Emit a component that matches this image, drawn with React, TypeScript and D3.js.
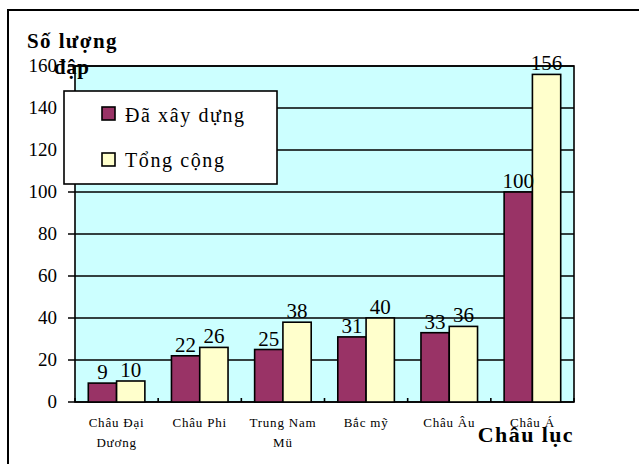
import React from "react";
import * as d3 from "d3";

const categories: string[][] = [
  ["Châu Đại", "Dương"],
  ["Châu Phi"],
  ["Trung Nam", "Mü"],
  ["Bắc mỹ"],
  ["Châu Âu"],
  ["Châu Á"],
];
const seriesNames = ["Đã xây dựng", "Tổng cộng"];
const builtValues = [9, 22, 25, 31, 33, 100];
const totalValues = [10, 26, 38, 40, 36, 156];
const yTicks = [0, 20, 40, 60, 80, 100, 120, 140, 160];
const yTitle = ["Số lượng", "đập"];
const xTitle = "Châu lục";

const colors = ["#993366", "#FFFFCC"];
const W = 639;
const H = 464;
const plot = { left: 75, top: 66, right: 574, bottom: 402 };
const serif = "Liberation Serif, Times New Roman, Times, serif";

export default function App() {
  const seriesValues = [builtValues, totalValues];
  const idx = categories.map((_, i) => i);
  const x = d3.scaleBand<number>().domain(idx).range([plot.left, plot.right]).padding(0);
  const inner = d3
    .scaleBand<number>()
    .domain([0, 1])
    .range([0, x.bandwidth()])
    .paddingInner(0)
    .paddingOuter(0.47);
  const y = d3.scaleLinear().domain([0, 160]).range([plot.bottom, plot.top]);
  const ts = { fontFamily: serif };

  return (
    <svg
      width={W}
      height={H}
      style={{ position: "absolute", left: 0, top: 0, background: "#fff", fontFamily: serif }}
    >
      {/* outer frame */}
      <rect x={8} y={10} width={800} height={600} fill="#fff" stroke="#000" strokeWidth={2} />

      {/* plot background */}
      <rect
        x={plot.left}
        y={plot.top}
        width={plot.right - plot.left}
        height={plot.bottom - plot.top}
        fill="#CCFFFF"
      />

      {/* grid lines */}
      {yTicks.map((t) => (
        <line
          key={"g" + t}
          x1={plot.left - 7}
          x2={plot.right}
          y1={y(t)}
          y2={y(t)}
          stroke="#000"
          strokeWidth={1.6}
        />
      ))}
      {/* plot border */}
      <rect
        x={plot.left}
        y={plot.top}
        width={plot.right - plot.left}
        height={plot.bottom - plot.top}
        fill="none"
        stroke="#000"
        strokeWidth={1.6}
      />
      {/* category boundary ticks */}
      {d3.range(categories.length + 1).map((i) => {
        const xx = plot.left + i * x.step();
        return (
          <line key={"t" + i} x1={xx} x2={xx} y1={plot.bottom} y2={plot.bottom - 4} stroke="#000" strokeWidth={1.6} />
        );
      })}

      {/* bars */}
      {seriesValues.map((vals, s) =>
        vals.map((v, i) => (
          <rect
            key={`b${s}-${i}`}
            x={(x(i) as number) + (inner(s) as number)}
            y={y(v)}
            width={inner.bandwidth()}
            height={plot.bottom - y(v)}
            fill={colors[s]}
            stroke="#000"
            strokeWidth={1.6}
          />
        ))
      )}

      {/* bar value labels */}
      {seriesValues.map((vals, s) =>
        vals.map((v, i) => (
          <text
            key={`l${s}-${i}`}
            x={(x(i) as number) + (inner(s) as number) + inner.bandwidth() / 2}
            y={y(v) - 4}
            textAnchor="middle"
            fontSize={21}
            fill="#000"
            style={ts}
          >
            {v}
          </text>
        ))
      )}

      {/* y tick labels */}
      {yTicks.map((t) => (
        <text key={"yl" + t} x={57} y={y(t)} dy="0.34em" textAnchor="end" fontSize={19} fill="#000" style={ts}>
          {t}
        </text>
      ))}

      {/* x category labels */}
      {categories.map((lines, i) => (
        <text
          key={"xl" + i}
          x={(x(i) as number) + x.bandwidth() / 2}
          y={427}
          textAnchor="middle"
          fontSize={13}
          letterSpacing={0.8}
          fill="#000"
          style={ts}
        >
          {lines.map((ln, j) => (
            <tspan key={j} x={(x(i) as number) + x.bandwidth() / 2} dy={j === 0 ? 0 : 20}>
              {ln}
            </tspan>
          ))}
        </text>
      ))}

      {/* y axis title */}
      <text x={27} y={48} fontSize={21} fontWeight="bold" letterSpacing={1.4} fill="#000" style={ts}>
        {yTitle[0]}
      </text>
      <text x={54} y={74} fontSize={21} fontWeight="bold" letterSpacing={0.5} fill="#000" style={ts}>
        {yTitle[1]}
      </text>

      {/* x axis title */}
      <text x={plot.right} y={442} textAnchor="end" fontSize={22} fontWeight="bold" letterSpacing={1.4} fill="#000" style={ts}>
        {xTitle}
      </text>

      {/* legend */}
      <rect x={64} y={91} width={213} height={93} fill="#fff" stroke="#000" strokeWidth={1.6} />
      {seriesNames.map((name, s) => (
        <g key={"lg" + s}>
          <rect x={102} y={107 + s * 46} width={13} height={13} fill={colors[s]} stroke="#000" strokeWidth={1.6} />
          <text x={125} y={122 + s * 45} fontSize={20} letterSpacing={1.6} fill="#000" style={ts}>
            {name}
          </text>
        </g>
      ))}
    </svg>
  );
}
